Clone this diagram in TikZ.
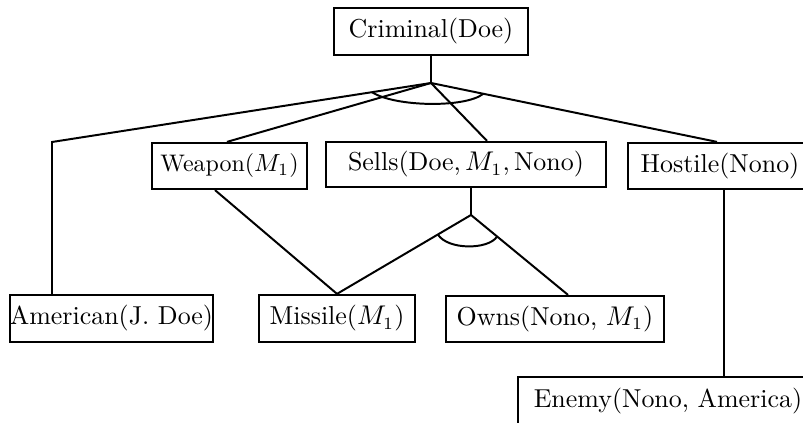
\documentclass[tikz,border=0pt]{standalone}
\usetikzlibrary{calc}
\newcommand{\pxu}{0.405pt}
\tikzset{
  x=0.405pt, y=-0.405pt,
  box/.style={draw, line width=0.9pt, inner sep=0pt, font=\fontsize{10.5}{12}\selectfont},
  smallbox/.style={box, font=\fontsize{9.7}{11}\selectfont},
  edge/.style={line width=0.8pt},
}
\begin{document}
\begin{tikzpicture}
\useasboundingbox (0,0) rectangle (803,423);
% nodes
\node[box, minimum width=194*\pxu, minimum height=47*\pxu] (crim) at (431,31.5) {Criminal(Doe)};
\node[smallbox, minimum width=155*\pxu, minimum height=46*\pxu] (weap) at (229.5,166) {Weapon($M_1$)};
\node[box, minimum width=280*\pxu, minimum height=45*\pxu] (sells) at (466,164.5) {Sells(Doe,\,$M_1$,\,Nono)};
\node[box, minimum width=184*\pxu, minimum height=46*\pxu] (host) at (720,166) {Hostile(Nono)};
\node[box, minimum width=203*\pxu, minimum height=47*\pxu] (amer) at (111.5,318.5) {American(J. Doe)};
\node[box, minimum width=156*\pxu, minimum height=47*\pxu] (miss) at (337,318.5) {Missile($M_1$)};
\node[box, minimum width=218*\pxu, minimum height=46*\pxu] (owns) at (555,319) {Owns(Nono, $M_1$)};
\node[box, minimum width=300*\pxu, minimum height=48*\pxu] (enem) at (668,401) {Enemy(Nono, America)};
% junctions
\coordinate (j1) at (431,83);
\coordinate (amc) at (52,142);
\coordinate (j2) at (471,215);
\coordinate (hs) at (724,189);
% top AND
\draw[edge] (crim.south) -- (j1);
\draw[edge] (j1) -- (amc) -- (amc |- amer.north);
\draw[edge] (j1) -- ($(weap.north)+(-2.5,0)$);
\draw[edge] (j1) -- ($(sells.north)+(21,0)$);
\draw[edge] (j1) -- ($(host.north)+(-3,0)$);
\draw[edge] (372,92.2) .. controls (395,107) and (465,108) .. (483,94);
% lower AND
\draw[edge] ($(sells.south)+(5,0)$) -- (j2);
\draw[edge] (j2) -- (miss.north);
\draw[edge] (j2) -- ($(owns.north)+(13,0)$);
\draw[edge] (438,234.7) .. controls (448,250) and (488,250) .. (497,236.7);
% Weapon to Missile
\draw[edge] ($(weap.south)+(-14.5,0)$) -- (miss.north);
% Hostile to Enemy
\draw[edge] (hs |- host.south) -- (hs |- enem.north);
\end{tikzpicture}
\end{document}
